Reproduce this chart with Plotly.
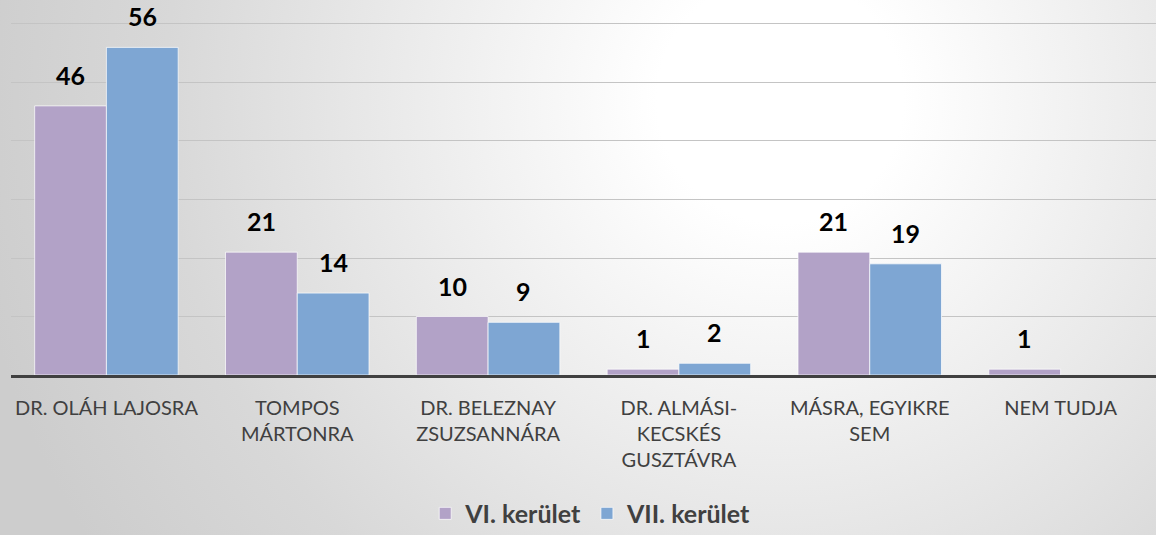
import base64
import plotly.graph_objects as go

categories = ["DR. OLÁH LAJOSRA", "TOMPOS<br>MÁRTONRA", "DR. BELEZNAY<br>ZSUZSANNÁRA",
              "DR. ALMÁSI-<br>KECSKÉS<br>GUSZTÁVRA", "MÁSRA, EGYIKRE<br>SEM", "NEM TUDJA"]
series_names = ["VI. kerület", "VII. kerület"]
vi_values = [46, 21, 10, 1, 21, 1]
vii_values = [56, 14, 9, 2, 19, None]
colors = ["#B2A2C7", "#7EA6D3"]

FONT = "Lato, Open Sans, sans-serif"
BARGAP = 0.248

svg = """<svg xmlns='http://www.w3.org/2000/svg' width='1156' height='535' viewBox='0 0 1156 535' preserveAspectRatio='none'>
<defs><radialGradient id='g' gradientUnits='userSpaceOnUse' cx='780' cy='100' r='820'>
<stop offset='0' stop-color='#ffffff'/><stop offset='0.15' stop-color='#ffffff'/>
<stop offset='0.75' stop-color='#d8d8d8'/><stop offset='1' stop-color='#cdcdcd'/></radialGradient></defs>
<rect width='1156' height='535' fill='url(#g)'/></svg>"""
bg_uri = "data:image/svg+xml;base64," + base64.b64encode(svg.encode()).decode()

fig = go.Figure()
for name, vals, col in zip(series_names, [vi_values, vii_values], colors):
    fig.add_trace(go.Bar(
        x=categories, y=vals, name=name,
        marker=dict(color=col, line=dict(color="rgba(255,255,255,0.7)", width=1)),
    ))

# value labels above each bar
half = (1 - BARGAP) / 4
annotations = []
for si, vals in enumerate([vi_values, vii_values]):
    off = -half if si == 0 else half
    for ci, v in enumerate(vals):
        if v is None:
            continue
        annotations.append(dict(x=ci + off, y=v, xref="x", yref="y", text=str(v),
                                showarrow=False, yanchor="bottom", yshift=14,
                                font=dict(family=FONT, size=25, color="#000000", weight="bold")))

fig.update_layout(
    width=1156, height=535,
    margin=dict(l=11, r=0, t=0, b=160, autoexpand=False),
    paper_bgcolor="#ffffff", plot_bgcolor="rgba(0,0,0,0)",
    barmode="group", bargap=BARGAP, bargroupgap=0,
    font=dict(family=FONT, color="#404040"),
    annotations=annotations,
    images=[dict(source=bg_uri, xref="paper", yref="paper", x=-11/1145, y=1,
                 sizex=1156/1145, sizey=535/375, xanchor="left", yanchor="top",
                 sizing="stretch", layer="below")],
    legend=dict(orientation="h", x=0.511, xanchor="center", xref="container",
                y=0.040, yanchor="middle", yref="container",
                font=dict(size=25, color="#404040", family=FONT, weight="bold"),
                bgcolor="rgba(0,0,0,0)", traceorder="normal"),
)
fig.update_xaxes(showline=True, linecolor="#404040", linewidth=3, ticks="",
                 tickfont=dict(size=20, color="#404040"), ticklabelstandoff=13,
                 showgrid=False, automargin=False)
fig.update_yaxes(range=[0, 64.1], dtick=10, showgrid=True, gridcolor="#c4c4c4", gridwidth=1,
                 showticklabels=False, zeroline=False, showline=False, automargin=False)

fig.write_html("out.html", config={"displayModeBar": False},
               post_script="document.body.style.margin='0';document.body.style.overflow='hidden';")
